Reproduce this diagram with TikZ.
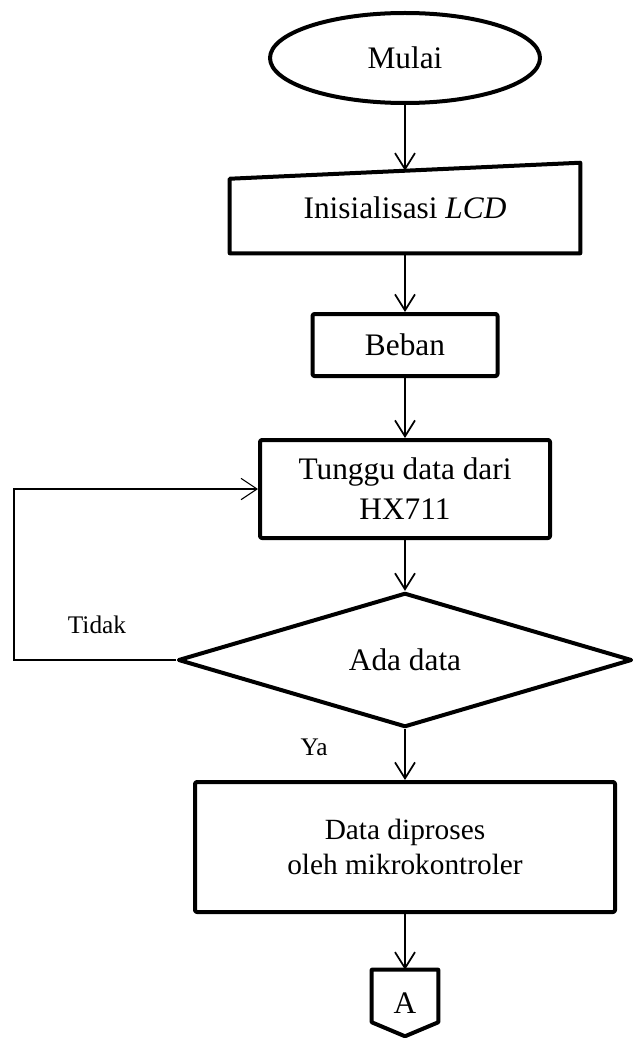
\documentclass[tikz,border=0pt]{standalone}
\usepackage{fontspec}
\setmainfont{Liberation Serif}
\usetikzlibrary{arrows.meta,shapes.geometric,calc}

\begin{document}
\begin{tikzpicture}[x=0.75pt,y=-0.75pt,
  shp/.style={draw=black,line width=3pt,line join=round},
  box/.style={shp,rectangle,rounded corners=1.5pt,inner sep=0pt,align=center,font=\fontsize{23.5}{30}\selectfont},
  arr/.style={-{Straight Barb[length=12pt,width=15pt]},line width=1.3pt},
  balik/.style={-{Straight Barb[length=12pt,width=16pt]},line width=0.8pt},
  lbl/.style={font=\fontsize{19}{23}\selectfont}]
\useasboundingbox (0,0) rectangle (632,1038);
\node[shp,ellipse,inner sep=0pt,minimum width=202.5pt,minimum height=67.5pt,font=\fontsize{23.5}{30}\selectfont]
  (mulai) at (405,58) {Mulai};
\node[inner sep=0pt,minimum width=262.5pt,minimum height=67.5pt,font=\fontsize{23.5}{30}\selectfont]
  (init) at (405,208) {\raisebox{-4pt}{Inisialisasi \textit{LCD}}};
\draw[shp] (init.south west) -- (init.south east) -- (init.north east)
  -- ($(init.north west)+(0,16)$) -- cycle;
\coordinate (initin) at ($(init.north)+(0,8)$);
\node[box,minimum width=138.75pt,minimum height=46.5pt] (beban) at (405,345) {Beban};
\node[box,minimum width=217.5pt,minimum height=73.5pt] (tunggu) at (405,489)
  {Tunggu data dari\\HX711};
\node[shp,diamond,inner sep=0pt,minimum width=340.5pt,minimum height=85.5pt,font=\fontsize{23.5}{30}\selectfont]
  (cek) at (405,660) {Ada data};
\node[box,minimum width=315pt,minimum height=97.5pt,font=\fontsize{22}{26}\selectfont]
  (proses) at (405,847) {Data diproses\\oleh mikrokontroler};
\node[inner sep=0pt,minimum width=49.5pt,minimum height=49.5pt,font=\fontsize{23.5}{30}\selectfont]
  (konA) at (405,1003) {A};
\draw[shp] (konA.north west) -- (konA.north east) -- ($(konA.south east)+(0,-14)$)
  -- (konA.south) -- ($(konA.south west)+(0,-14)$) -- cycle;
\coordinate (kiri) at (14,660);
\draw[arr] (mulai) -- (initin);
\draw[arr] (init) -- (beban);
\draw[arr] (beban) -- (tunggu);
\draw[arr] (tunggu) -- (cek);
\draw[arr] (cek) -- (proses);
\draw[arr] (proses) -- (konA);
\draw[balik] (cek.west) -- (kiri) |- (tunggu.west);
\node[lbl] (tidak) at (97,625) {Tidak};
\node[lbl] (ya) at (314,747) {Ya};
\end{tikzpicture}
\end{document}
